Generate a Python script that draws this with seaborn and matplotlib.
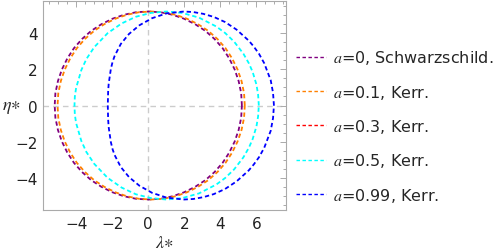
import numpy as np
import matplotlib
matplotlib.use("Agg")
import matplotlib.pyplot as plt
import seaborn as sns
from matplotlib.lines import Line2D
from matplotlib.ticker import MultipleLocator

# shadow contours (lambda*, eta*), closed curves
lam_a0 = [5.20, 5.16, 5.02, 4.80, 4.50, 4.13, 3.68, 3.17, 2.60, 1.99, 1.35, 0.68, 0.00,
          -0.68, -1.35, -1.99, -2.60, -3.17, -3.68, -4.13, -4.50, -4.80, -5.02, -5.16, -5.20,
          -5.16, -5.02, -4.80, -4.50, -4.13, -3.68, -3.17, -2.60, -1.99, -1.35, -0.68, 0.00,
          0.68, 1.35, 1.99, 2.60, 3.17, 3.68, 4.13, 4.50, 4.80, 5.02, 5.16, 5.20]
eta_a0 = [0.00, 0.68, 1.35, 1.99, 2.60, 3.17, 3.68, 4.13, 4.50, 4.80, 5.02, 5.16, 5.20,
          5.16, 5.02, 4.80, 4.50, 4.13, 3.68, 3.17, 2.60, 1.99, 1.35, 0.68, 0.00,
          -0.68, -1.35, -1.99, -2.60, -3.17, -3.68, -4.13, -4.50, -4.80, -5.02, -5.16, -5.20,
          -5.16, -5.02, -4.80, -4.50, -4.13, -3.68, -3.17, -2.60, -1.99, -1.35, -0.68, 0.00]

lam_a01 = [5.36, 5.32, 5.18, 4.96, 4.66, 4.29, 3.84, 3.33, 2.76, 2.15, 1.51, 0.84, 0.16,
           -0.52, -1.19, -1.83, -2.44, -3.01, -3.52, -3.97, -4.34, -4.64, -4.86, -5.00, -5.04,
           -5.00, -4.86, -4.64, -4.34, -3.97, -3.52, -3.01, -2.44, -1.83, -1.19, -0.52, 0.16,
           0.84, 1.51, 2.15, 2.76, 3.33, 3.84, 4.29, 4.66, 4.96, 5.18, 5.32, 5.36]
eta_a01 = [0.00, 0.68, 1.35, 1.99, 2.60, 3.17, 3.68, 4.13, 4.50, 4.80, 5.02, 5.16, 5.20,
           5.16, 5.02, 4.80, 4.50, 4.13, 3.68, 3.17, 2.60, 1.99, 1.35, 0.68, 0.00,
           -0.68, -1.35, -1.99, -2.60, -3.17, -3.68, -4.13, -4.50, -4.80, -5.02, -5.16, -5.20,
           -5.16, -5.02, -4.80, -4.50, -4.13, -3.68, -3.17, -2.60, -1.99, -1.35, -0.68, 0.00]

lam_a05 = [6.14, 6.10, 6.01, 5.80, 5.59, 5.28, 4.77, 4.27, 3.78, 2.82, 1.89, 1.00, 0.14,
           -0.69, -1.48, -2.26, -3.00, -3.44, -3.72, -4.01, -4.08, -4.10,
           -4.08, -4.01, -3.72, -3.44, -3.00, -2.26, -1.48, -0.69, 0.14, 1.00, 1.89, 2.82,
           3.78, 4.27, 4.77, 5.28, 5.59, 5.80, 6.01, 6.10, 6.14]
eta_a05 = [0.00, 0.60, 1.15, 1.85, 2.33, 2.87, 3.53, 4.01, 4.37, 4.86, 5.12, 5.20, 5.12,
           4.91, 4.54, 4.00, 3.23, 2.57, 1.96, 0.97, 0.50, 0.00,
           -0.50, -0.97, -1.96, -2.57, -3.23, -4.00, -4.54, -4.91, -5.12, -5.20, -5.12, -4.86,
           -4.37, -4.01, -3.53, -2.87, -2.33, -1.85, -1.15, -0.60, 0.00]

lam_a099 = [6.98, 6.93, 6.80, 6.44, 6.15, 5.86, 5.58, 4.90, 4.26, 3.64, 3.06, 2.50, 1.98,
            1.03, 0.21, -0.49, -1.07, -1.53, -1.87, -1.98, -2.08, -2.20, -2.23, -2.25,
            -2.23, -2.20, -2.08, -1.98, -1.87, -1.53, -1.07, -0.49, 0.21, 1.03, 1.98, 2.50,
            3.06, 3.64, 4.26, 4.90, 5.58, 5.86, 6.15, 6.44, 6.80, 6.93, 6.98]
eta_a099 = [0.00, 0.70, 1.40, 2.34, 2.86, 3.26, 3.59, 4.20, 4.62, 4.90, 5.07, 5.17, 5.20,
            5.10, 4.83, 4.44, 3.96, 3.40, 2.74, 2.43, 2.02, 1.20, 0.78, 0.00,
            -0.78, -1.20, -2.02, -2.43, -2.74, -3.40, -3.96, -4.44, -4.83, -5.10, -5.20, -5.17,
            -5.07, -4.90, -4.62, -4.20, -3.59, -3.26, -2.86, -2.34, -1.40, -0.70, 0.00]

labels = ["$a$=0, Schwarzschild.", "$a$=0.1, Kerr.", "$a$=0.3, Kerr.",
          "$a$=0.5, Kerr.", "$a$=0.99, Kerr."]
colors = ["#800080", "#ff8000", "#ff0000", "#00ffff", "#0000ff"]

sns.set_style("white")
plt.rcParams["font.family"] = ["DejaVu Sans"]
plt.rcParams["mathtext.fontset"] = "stix"

fig = plt.figure(figsize=(4.98, 2.53), dpi=100)
ax = fig.add_axes([0.0863, 0.166, 0.488, 0.826])

ax.axhline(0, color="#cccccc", lw=1.0, ls=(0, (4, 3)), zorder=0)
ax.axvline(0, color="#cccccc", lw=1.0, ls=(0, (4, 3)), zorder=0)

dash = (0, (2.4, 1.6))
curves = [(lam_a0, eta_a0, 0), (lam_a01, eta_a01, 1), (lam_a05, eta_a05, 3), (lam_a099, eta_a099, 4)]
for lx, ey, i in curves:
    sns.lineplot(x=lx, y=ey, sort=False, estimator=None, ax=ax,
                 color=colors[i], lw=1.3, linestyle=dash)

ax.set_xlim(-5.85, 7.65)
ax.set_ylim(-5.78, 5.78)
ax.xaxis.set_major_locator(MultipleLocator(2))
ax.xaxis.set_minor_locator(MultipleLocator(0.5))
ax.yaxis.set_major_locator(MultipleLocator(2))
ax.yaxis.set_minor_locator(MultipleLocator(0.5))
ax.tick_params(which="both", direction="in", top=True, right=True, color="#aaaaaa",
               labelsize=11, labelcolor="#222222", width=0.7)
ax.tick_params(which="major", length=4, pad=4)
ax.tick_params(which="minor", length=2)
for s in ax.spines.values():
    s.set_color("#aaaaaa")
    s.set_linewidth(0.8)

ax.set_xlabel(r"$\lambda\!\ast$", fontsize=13, labelpad=2)
ax.set_ylabel(r"$\eta\!\ast$", fontsize=13, rotation=0, ha="center", va="center")
ax.yaxis.set_label_coords(-0.13, 0.5)

handles = [Line2D([], [], color=c, lw=1.0, linestyle=(0, (2.5, 1.8))) for c in colors]
fig.legend(handles, labels, loc="center left", bbox_to_anchor=(0.582, 0.498),
           frameon=False, fontsize=11.5, handlelength=1.85, labelspacing=1.02,
           handletextpad=0.45, borderaxespad=0.0)

fig.savefig("out.png", dpi=100)
